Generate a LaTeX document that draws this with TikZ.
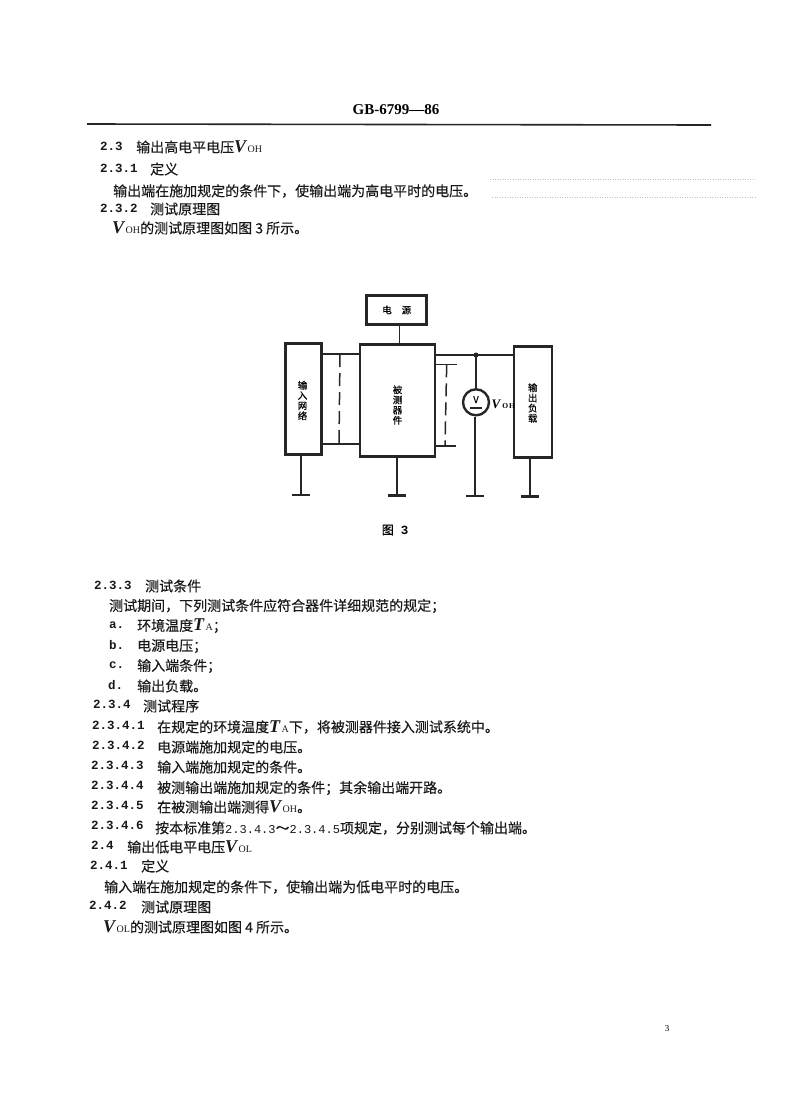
\documentclass[tikz,border=0pt]{standalone}
\usepackage{fontspec}
\setmainfont{Noto Sans CJK SC}[FakeBold=0.25]
\newfontfamily\numf{Liberation Mono}[BoldFont={Liberation Mono Bold}]
\newfontfamily\serf{Liberation Serif}
\newcommand{\Num}[1]{{\fontsize{12.5}{14}\numf\bfseries #1}}
\newcommand{\Vv}[2]{{\fontsize{18}{18}\serf\bfseries\itshape #1}\hspace{1.5pt}{\fontsize{10}{10}\serf #2}}
\tikzset{
 x=1pt,y=-1pt,
 txt/.style={anchor=west,inner sep=0pt,font=\fontsize{14}{16}\selectfont,text=black!90},
 numt/.style={anchor=west,inner sep=0pt,text=black!90},
 blk/.style={draw=black!85,line width=2.6pt,fill=white,inner sep=0pt},
 wire/.style={draw=black!85,line width=1.6pt},
 hwire/.style={draw=black!85,line width=2pt},
 dashw/.style={draw=black!85,line width=1.5pt,dash pattern=on 13pt off 6pt},
 gnd/.style={draw=black!85,line width=2.6pt},
 vlab/.style={inner sep=0pt,align=center,font=\fontsize{9.5}{10.2}\selectfont}
}
\begin{document}
\begin{tikzpicture}
\useasboundingbox (0,0) rectangle (792,1120);
\fill[white] (0,0) rectangle (792,1120);

% header
\node[inner sep=0pt] (hd) at (396,110) {\fontsize{15}{16}\serf\bfseries GB-6799—86};
\coordinate (ra) at (87,124); \coordinate (rb) at (711,125);
\draw[draw=black!85,line width=1.6pt] (ra) -- (rb);
\coordinate (da) at (490,179); \coordinate (db) at (755,179);
\coordinate (dc) at (492,197); \coordinate (dd) at (755,197);
\draw[black!25,line width=.5pt,dotted] (da) -- (db);
\draw[black!25,line width=.5pt,dotted] (dc) -- (dd);

% upper text
\node[numt] (n1) at (100,146) {\Num{2.3}};
\node[txt] (t1) at (136,147) {输出高电平电压\Vv{V}{OH}};
\node[numt] (n2) at (100,168) {\Num{2.3.1}};
\node[txt] (t2) at (150,169) {定义};
\node[txt] (t3) at (113,191) {输出端在施加规定的条件下，使输出端为高电平时的电压。};
\node[numt] (n3) at (100,208) {\Num{2.3.2}};
\node[txt] (t4) at (150,209) {测试原理图};
\node[txt] (t5) at (112,228) {\Vv{V}{OH}的测试原理图如图 3 所示。};

% diagram
\node[blk,minimum width=60pt,minimum height=29pt] (pw) at (396.7,310) {\fontsize{9.5}{10}\selectfont 电\hspace{10pt}源};
\node[blk,minimum width=36pt,minimum height=111pt,align=center] (inp) at (303.5,399) {};
\node[blk,minimum width=75pt,minimum height=112pt] (dut) at (397.5,400.5) {};
\node[blk,minimum width=38pt,minimum height=111pt] (out) at (533,402) {};
\node[vlab] (inpl) at (302.5,400.5) {输\\入\\网\\络};
\node[vlab] (dutl) at (397.5,405) {被\\测\\器\\件};
\node[vlab] (outl) at (532.7,403) {输\\出\\负\\载};
\node[draw=black!85,line width=2.4pt,circle,minimum size=26pt,inner sep=0pt,fill=white] (vm) at (476,402.3) {};
\node[inner sep=0pt,font=\fontsize{9.5}{9.5}\selectfont] (vmv) at (476,399.5) {V};
\coordinate (vua) at (470,408); \coordinate (vub) at (482,408);
\draw[wire] (vua) -- (vub);
\node[anchor=west,inner sep=0pt] (vohl) at (491.5,404) {\fontsize{13}{13}\serf\bfseries\itshape V\hspace{2pt}\fontsize{7.5}{8}\upshape\bfseries O\hspace{1pt}H};

\coordinate (pb) at (399.3,325);
\draw[wire] (pb) -- (pb |- dut.north);

\coordinate (il1) at (inp.east |- 0,354);
\coordinate (il2) at (inp.east |- 0,444);
\draw[wire] (il1) -- (il1 -| dut.west);
\draw[wire] (il2) -- (il2 -| dut.west);
\coordinate (da1) at (340,354); \coordinate (da2) at (339,444);
\draw[dashw] (da1) -- (da2);

\coordinate (dot) at (476,355);
\draw[hwire] (dut.east |- dot) -- (dot) -- (dot -| out.west);
\fill[black!85] (dot) circle (2.5pt);
\draw[wire] (dot) -- (vm.north);
\coordinate (o2a) at (dut.east |- 0,364.3); \coordinate (o2b) at (457.3,364.3);
\coordinate (o3a) at (dut.east |- 0,445.7); \coordinate (o3b) at (455.7,445.7);
\draw[wire] (o2a) -- (o2b);
\draw[wire] (o3a) -- (o3b);
\coordinate (da3) at (446.7,364.3); \coordinate (da4) at (445,445.7);
\draw[dashw] (da3) -- (da4);

% grounds
\coordinate (g1) at (301,495); \coordinate (g2) at (396.7,495.7);
\coordinate (g3) at (475,496); \coordinate (g4) at (530,496.7);
\draw[wire] (g1 |- inp.south) -- (g1);
\draw[wire] (g2 |- dut.south) -- (g2);
\draw[wire] (g3 |- vm.south) -- (g3);
\draw[wire] (g4 |- out.south) -- (g4);
\foreach \g/\w in {g1/9,g2/9,g3/9,g4/8.8}{
  \draw[gnd] ([xshift=-\w pt]\g) -- ([xshift=\w pt]\g);
}
\node[inner sep=0pt] (fig) at (395,530) {\fontsize{12}{13}\selectfont 图\hspace{7pt}\Num{3}};

% lower text
\node[numt] (n4) at (94,585) {\Num{2.3.3}};
\node[txt] (t6) at (145,586) {测试条件};
\node[txt] (t7) at (109,606) {测试期间，下列测试条件应符合器件详细规范的规定；};
\node[numt] (a) at (109,625) {\Num{a.}};
\node[txt] (ta) at (137,626) {环境温度\Vv{T}{A}；};
\node[numt] (b) at (109,645) {\Num{b.}};
\node[txt] (tb) at (137,646) {电源电压；};
\node[numt] (c) at (109,665) {\Num{c.}};
\node[txt] (tc) at (137,666) {输入端条件；};
\node[numt] (d) at (108,685) {\Num{d.}};
\node[txt] (td) at (137,686) {输出负载。};
\node[numt] (n5) at (93,704) {\Num{2.3.4}};
\node[txt] (t8) at (143,706) {测试程序};
\node[numt] (n6) at (92,725) {\Num{2.3.4.1}};
\node[txt] (t9) at (157,727) {在规定的环境温度\Vv{T}{A}下，将被测器件接入测试系统中。};
\node[numt] (n7) at (92,745) {\Num{2.3.4.2}};
\node[txt] (t10) at (157,747) {电源端施加规定的电压。};
\node[numt] (n8) at (91,765) {\Num{2.3.4.3}};
\node[txt] (t11) at (157,767) {输入端施加规定的条件。};
\node[numt] (n9) at (91,785) {\Num{2.3.4.4}};
\node[txt] (t12) at (157,788) {被测输出端施加规定的条件；其余输出端开路。};
\node[numt] (n10) at (91,805) {\Num{2.3.4.5}};
\node[txt] (t13) at (157,807) {在被测输出端测得\Vv{V}{OH}。};
\node[numt] (n11) at (91,825) {\Num{2.3.4.6}};
\node[txt] (t14) at (155,828) {按本标准第{\fontsize{12}{14}\numf 2.3.4.3}～{\fontsize{12}{14}\numf 2.3.4.5}项规定，分别测试每个输出端。};
\node[numt] (n12) at (91,845) {\Num{2.4}};
\node[txt] (t15) at (127,847) {输出低电平电压\Vv{V}{OL}};
\node[numt] (n13) at (90,865) {\Num{2.4.1}};
\node[txt] (t16) at (141,866) {定义};
\node[txt] (t17) at (104,887) {输入端在施加规定的条件下，使输出端为低电平时的电压。};
\node[numt] (n14) at (89,905) {\Num{2.4.2}};
\node[txt] (t18) at (141,907) {测试原理图};
\node[txt] (t19) at (103,927) {\Vv{V}{OL}的测试原理图如图 4 所示。};
\node[inner sep=0pt] (pg) at (667,1029) {\fontsize{9}{10}\serf 3};
\end{tikzpicture}
\end{document}
